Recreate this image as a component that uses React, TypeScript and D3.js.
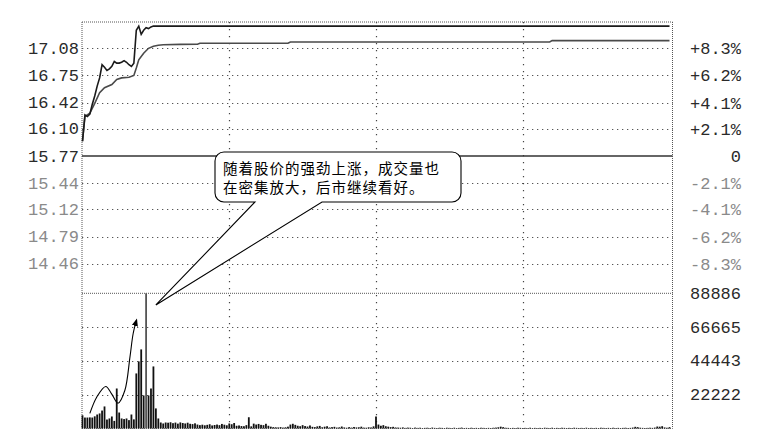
import React from "react";
import * as d3 from "d3";

// ---- data ----
const priceTicks = [17.08, 16.75, 16.42, 16.1, 15.77, 15.44, 15.12, 14.79, 14.46];
const priceTickLabels = ["17.08", "16.75", "16.42", "16.10", "15.77", "15.44", "15.12", "14.79", "14.46"];
const pctTickLabels = ["+8.3%", "+6.2%", "+4.1%", "+2.1%", "0", "-2.1%", "-4.1%", "-6.2%", "-8.3%"];
const volTicks = [88886, 66665, 44443, 22222];
const volTickLabels = ["88886", "66665", "44443", "22222"];
const timeGridMinutes = [60, 120, 180];
const prevClose = 15.77;

const priceMinutes = [0, 1, 2, 3, 4, 5, 6, 7, 8, 9, 10, 11, 12, 13, 14, 15, 16, 17, 18, 19, 20, 21, 22, 23, 24, 25, 26, 27, 28, 29, 240];
const priceValues = [15.95, 16.27, 16.25, 16.28, 16.4, 16.5, 16.62, 16.72, 16.88, 16.85, 16.81, 16.83, 16.86, 16.92, 16.9, 16.9, 16.91, 16.93, 16.91, 16.88, 16.86, 16.9, 17.3, 17.35, 17.25, 17.3, 17.33, 17.32, 17.34, 17.35, 17.35];

const avgMinutes = [0, 1, 3, 5, 7, 9, 12, 14, 16, 19, 21, 22, 23, 25, 27, 29, 31, 33, 40, 47, 48, 84, 85, 191, 192, 240];
const avgValues = [15.95, 16.25, 16.29, 16.41, 16.54, 16.6, 16.64, 16.7, 16.72, 16.727, 16.75, 16.84, 16.94, 17.02, 17.08, 17.105, 17.117, 17.124, 17.128, 17.129, 17.141, 17.141, 17.157, 17.157, 17.173, 17.173];

const volumes = [
  8700, 7200, 7200, 7300, 7200, 8000, 9200, 9900, 11800, 14500,
  5900, 6600, 7900, 5000, 26300, 10500, 6600, 6200, 6600, 5500,
  9200, 6000, 36200, 44100, 52000, 21700, 88886, 21700, 26300, 40800,
  13200, 6600, 3950, 3300, 3950,
  3800, 4100, 3500, 3900, 3200, 4000, 3600, 3300, 3800, 3100,
  2900, 3400, 2600, 2200, 2500, 2100, 2400, 2800, 2000, 2300,
  2600, 2200, 3000, 2500, 2100,
  3300, 2800, 3600, 1800, 2000, 1600, 1500, 2200, 7400, 1400,
  3200, 2600, 3000, 2400, 2200, 3100, 1800, 1200, 900, 800,
  700, 900, 600, 800, 1200, 2600, 3100, 2400, 1800, 1500,
  2200, 1600, 1300, 2000, 1100, 900, 1400, 1700, 800, 1200,
  1500, 700, 900, 1100, 600, 800, 1300, 700, 500, 900,
  600, 1000, 700, 800, 1200, 600, 500, 800, 700, 1400,
  7900, 2600, 1800, 2200, 1500, 1200, 900, 1100, 700, 600,
  500, 700, 400, 600, 500, 300, 600, 400, 500, 300,
  400, 500, 300, 600, 400, 300, 500, 400, 300, 500,
  400, 300, 500, 300, 400, 600, 300, 400, 300, 500,
  300, 400, 300, 500, 400, 300, 400, 300, 500, 600,
  800, 1200, 900, 500, 400, 300, 400, 300, 500, 400,
  300, 400, 300, 500, 300, 400, 300, 400, 300, 500,
  400, 300, 500, 300, 400, 300, 500, 400, 300, 400,
  300, 500, 400, 300, 400, 300, 500, 300, 400, 300,
  400, 300, 500, 400, 300, 400, 300, 500, 300, 400,
  300, 400, 500, 300, 400, 600, 1100, 900, 500, 400,
  300, 400, 500, 400, 600, 1300, 1200, 1500, 700, 500,
  900,
];

// hand-drawn arrow annotation in the volume panel (minute, volume)
const arrowMinutes = [3.0, 5.8, 9.5, 11.9, 14.5, 17.3, 19.4, 20.7, 22.1];
const arrowVolumes = [9900, 20600, 27650, 22800, 16650, 25000, 46950, 62300, 71400];

const calloutLines = ["随着股价的强劲上涨，成交量也", "在密集放大，后市继续看好。"];

// ---- layout ----
const W = 764;
const H = 448;
const LEFT = 82;
const RIGHT = 672.5;
const TOP = 22;
const DIVIDER = 293.3;
const BOTTOM = 428.5;

export default function App() {
  const x = d3.scaleLinear().domain([0, 240]).range([82.5, 669.5]);
  const yP = d3.scaleLinear().domain([14.1, 17.4]).range([DIVIDER, TOP]);
  const yV = d3.scaleLinear().domain([0, 88886]).range([BOTTOM, DIVIDER]);

  const priceLine = d3
    .line<number>()
    .x((_, i) => x(priceMinutes[i]))
    .y((d) => yP(d))(priceValues) as string;
  const avgLine = d3
    .line<number>()
    .x((_, i) => x(avgMinutes[i]))
    .y((d) => yP(d))(avgValues) as string;
  const arrowPath = d3
    .line<number>()
    .x((_, i) => x(arrowMinutes[i]))
    .y((d) => yV(d))
    .curve(d3.curveCatmullRom.alpha(0.5))(arrowVolumes) as string;

  const mono = "'Liberation Mono', 'DejaVu Sans Mono', monospace";
  const dark = "#2a2a2a";
  const grey = "#8a8a8a";

  // callout
  const L = 215, T = 152, R = 461, B = 202, r = 9;
  const tailL = 255, tailR = 322;
  const tip: [number, number] = [x(30), yV(81200)];
  const callout = `M${L + r},${T} H${R - r} A${r},${r} 0 0 1 ${R},${T + r} V${B - r} A${r},${r} 0 0 1 ${R - r},${B} H${tailR} L${tip[0]},${tip[1]} L${tailL},${B} H${L + r} A${r},${r} 0 0 1 ${L},${B - r} V${T + r} A${r},${r} 0 0 1 ${L + r},${T} Z`;

  return (
    <svg
      width={W}
      height={H}
      style={{ position: "absolute", left: 0, top: 0, background: "#fff", display: "block" }}
    >
      <defs>
        <marker id="ah" viewBox="0 0 10 10" refX="8" refY="5" markerWidth="7" markerHeight="7" orient="auto">
          <path d="M0,1 L10,5 L0,9 Z" fill="#000" />
        </marker>
      </defs>
      <rect x={0} y={0} width={W} height={H} fill="#fff" />

      {/* horizontal price grid */}
      {priceTicks.map((p, i) =>
        p === prevClose ? null : (
          <line key={"pg" + i} x1={LEFT} x2={RIGHT} y1={Math.round(yP(p)) + 0.5} y2={Math.round(yP(p)) + 0.5}
            stroke="#555" strokeWidth={1} strokeDasharray="1.3,3.7" />
        )
      )}
      {/* volume grid */}
      {volTicks.slice(1).map((v, i) => (
        <line key={"vg" + i} x1={LEFT} x2={RIGHT} y1={Math.round(yV(v)) + 0.5} y2={Math.round(yV(v)) + 0.5}
          stroke="#555" strokeWidth={1} strokeDasharray="1.3,3.7" />
      ))}
      {/* vertical time grid */}
      {timeGridMinutes.map((m, i) => (
        <line key={"tg" + i} x1={Math.round(x(m)) + 0.5} x2={Math.round(x(m)) + 0.5} y1={TOP} y2={BOTTOM}
          stroke="#444" strokeWidth={1.2} strokeDasharray="1.3,5.7" />
      ))}

      {/* borders */}
      <line x1={LEFT} x2={RIGHT} y1={TOP} y2={TOP} stroke="#555" strokeDasharray="1,1" />
      <line x1={LEFT} x2={RIGHT} y1={DIVIDER} y2={DIVIDER} stroke="#555" strokeDasharray="1,1" />
      <line x1={LEFT} x2={RIGHT} y1={BOTTOM} y2={BOTTOM} stroke="#777" strokeDasharray="1,1" />
      <line x1={LEFT} x2={LEFT} y1={TOP} y2={BOTTOM} stroke="#555" strokeDasharray="1,1" />
      <line x1={RIGHT} x2={RIGHT} y1={TOP} y2={BOTTOM} stroke="#555" strokeDasharray="1,1" />

      {/* previous close line */}
      <line x1={LEFT} x2={RIGHT} y1={yP(prevClose)} y2={yP(prevClose)} stroke="#333" strokeWidth={1.6} />

      {/* volume bars */}
      {volumes.map((v, i) => (
        <rect key={"vb" + i} x={x(i) - 0.9} width={1.8} y={yV(v)} height={BOTTOM - yV(v)}
          fill={v > 80000 ? "#555" : "#111"} />
      ))}

      {/* price & average lines */}
      <path d={avgLine} fill="none" stroke="#4a4a4a" strokeWidth={1.6} />
      <path d={priceLine} fill="none" stroke="#1a1a1a" strokeWidth={1.6} />

      {/* arrow annotation */}
      <path d={arrowPath} fill="none" stroke="#000" strokeWidth={1.1} markerEnd="url(#ah)" />

      {/* left price labels */}
      {priceTicks.map((p, i) => (
        <text key={"pl" + i} x={79} y={yP(p) + 1} textAnchor="end" dominantBaseline="central"
          fontFamily={mono} fontSize={17} fill={p >= prevClose ? dark : grey}>
          {priceTickLabels[i]}
        </text>
      ))}
      {/* right pct labels */}
      {priceTicks.map((p, i) => (
        <text key={"rl" + i} x={741} y={yP(p) + 1.5} textAnchor="end" dominantBaseline="central"
          fontFamily={mono} fontSize={17} fill={p >= prevClose ? dark : grey}>
          {pctTickLabels[i]}
        </text>
      ))}
      {/* right volume labels */}
      {volTicks.map((v, i) => (
        <text key={"vl" + i} x={741} y={yV(v) + 1} textAnchor="end" dominantBaseline="central"
          fontFamily={mono} fontSize={17} fill={dark}>
          {volTickLabels[i]}
        </text>
      ))}

      {/* callout */}
      <path d={callout} fill="#fff" stroke="#000" strokeWidth={1.1} />
      {calloutLines.map((s, i) => (
        <text key={"cl" + i} x={223} y={167 + i * 19} dominantBaseline="central"
          fontFamily="'Noto Sans CJK SC', sans-serif" fontSize={14.5} letterSpacing={1} fill="#000">
          {s}
        </text>
      ))}
    </svg>
  );
}
